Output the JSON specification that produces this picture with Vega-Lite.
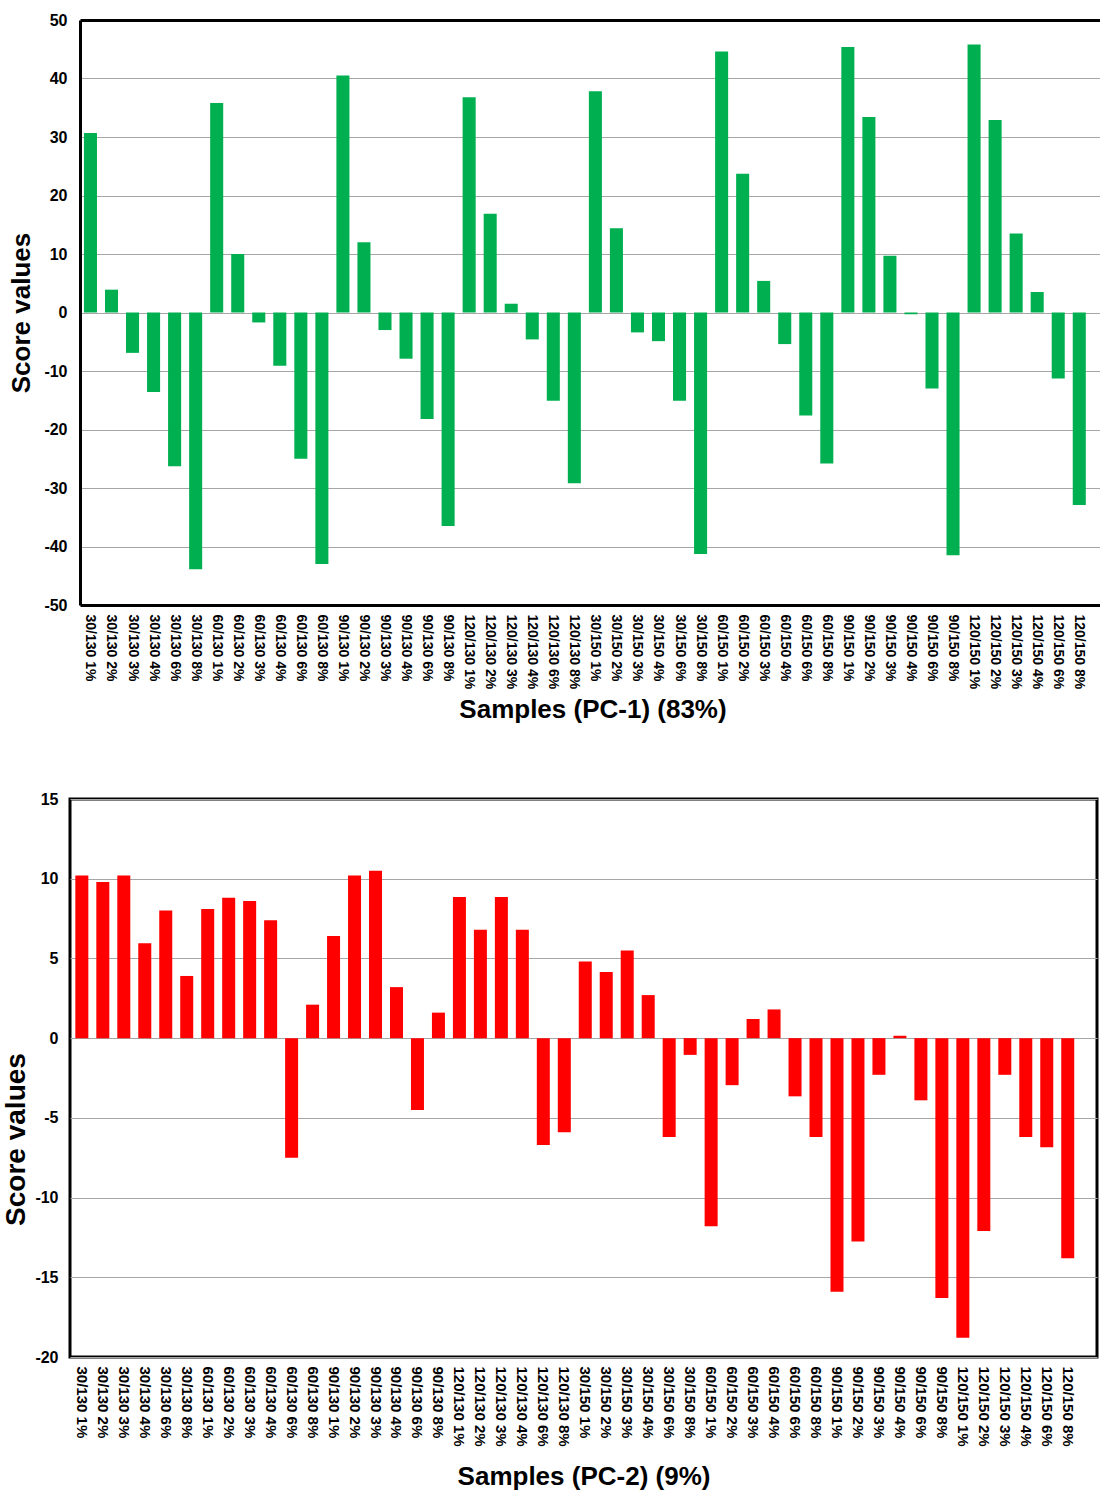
{
  "$schema": "https://vega.github.io/schema/vega-lite/v6.json",
  "padding": {"left": 0, "top": 12, "right": 0, "bottom": 0},
  "background": "white",
  "data": {"values": [
    {"sample": "30/130 1%", "pc1": 30.7, "pc2": 10.2},
    {"sample": "30/130 2%", "pc1": 3.9, "pc2": 9.8},
    {"sample": "30/130 3%", "pc1": -6.9, "pc2": 10.2},
    {"sample": "30/130 4%", "pc1": -13.6, "pc2": 5.95},
    {"sample": "30/130 6%", "pc1": -26.3, "pc2": 8.0},
    {"sample": "30/130 8%", "pc1": -43.9, "pc2": 3.9},
    {"sample": "60/130 1%", "pc1": 35.8, "pc2": 8.1},
    {"sample": "60/130 2%", "pc1": 10.0, "pc2": 8.8},
    {"sample": "60/130 3%", "pc1": -1.7, "pc2": 8.6},
    {"sample": "60/130 4%", "pc1": -9.1, "pc2": 7.4},
    {"sample": "60/130 6%", "pc1": -25.0, "pc2": -7.5},
    {"sample": "60/130 8%", "pc1": -43.0, "pc2": 2.1},
    {"sample": "90/130 1%", "pc1": 40.5, "pc2": 6.4},
    {"sample": "90/130 2%", "pc1": 12.0, "pc2": 10.2},
    {"sample": "90/130 3%", "pc1": -3.0, "pc2": 10.5},
    {"sample": "90/130 4%", "pc1": -7.9, "pc2": 3.2},
    {"sample": "90/130 6%", "pc1": -18.2, "pc2": -4.5},
    {"sample": "90/130 8%", "pc1": -36.5, "pc2": 1.6},
    {"sample": "120/130 1%", "pc1": 36.8, "pc2": 8.85},
    {"sample": "120/130 2%", "pc1": 16.9, "pc2": 6.8},
    {"sample": "120/130 3%", "pc1": 1.5, "pc2": 8.85},
    {"sample": "120/130 4%", "pc1": -4.6, "pc2": 6.8},
    {"sample": "120/130 6%", "pc1": -15.1, "pc2": -6.7},
    {"sample": "120/130 8%", "pc1": -29.2, "pc2": -5.9},
    {"sample": "30/150 1%", "pc1": 37.8, "pc2": 4.8},
    {"sample": "30/150 2%", "pc1": 14.4, "pc2": 4.15},
    {"sample": "30/150 3%", "pc1": -3.4, "pc2": 5.5},
    {"sample": "30/150 4%", "pc1": -4.9, "pc2": 2.7},
    {"sample": "30/150 6%", "pc1": -15.1, "pc2": -6.2},
    {"sample": "30/150 8%", "pc1": -41.3, "pc2": -1.05},
    {"sample": "60/150 1%", "pc1": 44.6, "pc2": -11.8},
    {"sample": "60/150 2%", "pc1": 23.7, "pc2": -2.95},
    {"sample": "60/150 3%", "pc1": 5.4, "pc2": 1.2},
    {"sample": "60/150 4%", "pc1": -5.4, "pc2": 1.8},
    {"sample": "60/150 6%", "pc1": -17.6, "pc2": -3.65},
    {"sample": "60/150 8%", "pc1": -25.8, "pc2": -6.2},
    {"sample": "90/150 1%", "pc1": 45.4, "pc2": -15.9},
    {"sample": "90/150 2%", "pc1": 33.4, "pc2": -12.75},
    {"sample": "90/150 3%", "pc1": 9.7, "pc2": -2.3},
    {"sample": "90/150 4%", "pc1": -0.3, "pc2": 0.15},
    {"sample": "90/150 6%", "pc1": -13.0, "pc2": -3.9},
    {"sample": "90/150 8%", "pc1": -41.5, "pc2": -16.3},
    {"sample": "120/150 1%", "pc1": 45.8, "pc2": -18.8},
    {"sample": "120/150 2%", "pc1": 32.9, "pc2": -12.1},
    {"sample": "120/150 3%", "pc1": 13.5, "pc2": -2.3},
    {"sample": "120/150 4%", "pc1": 3.5, "pc2": -6.2},
    {"sample": "120/150 6%", "pc1": -11.3, "pc2": -6.85},
    {"sample": "120/150 8%", "pc1": -32.9, "pc2": -13.8}
  ]},
  "vconcat": [
    {
      "width": 1035,
      "height": 585,
      "view": {"stroke": null},
      "mark": {"type": "bar", "color": "#00b050"},
      "encoding": {
        "x": {
          "field": "sample", "type": "nominal", "sort": null,
          "scale": {"range": [10, 1035], "paddingInner": 0.38, "paddingOuter": 0.55, "align": 0.17},
          "axis": {"title": "Samples (PC-1) (83%)", "labelAngle": 90, "labelFontSize": 14, "labelPadding": 9, "titleFontSize": 26, "titlePadding": 8, "grid": false, "domain": true, "domainColor": "black", "domainWidth": 3}
        },
        "y": {
          "field": "pc1", "type": "quantitative",
          "scale": {"domain": [-50, 50], "nice": false},
          "axis": {
            "title": "Score values", "values": [-50, -40, -30, -20, -10, 0, 10, 20, 30, 40, 50],
            "labelExpr": "'' + datum.value", "labelFontSize": 16, "labelPadding": 13, "titleFontSize": 26, "titleX": -45.5,
            "offset": -10, "domain": true, "domainColor": "black", "domainWidth": 3,
            "gridColor": {"condition": {"test": "datum.value === 50", "value": "black"}, "value": "#a6a6a6"},
            "gridWidth": {"condition": {"test": "datum.value === 50", "value": 3}, "value": 1}
          }
        }
      }
    },
    {
      "width": 1027,
      "height": 558,
      "mark": {"type": "bar", "color": "#ff0000"},
      "encoding": {
        "x": {
          "field": "sample", "type": "nominal", "sort": null,
          "scale": {"paddingInner": 0.38, "paddingOuter": 0.67, "align": 0.19},
          "axis": {"title": "Samples (PC-2) (9%)", "labelAngle": 90, "labelFontSize": 15, "labelPadding": 9, "titleFontSize": 26, "titlePadding": 17, "grid": false}
        },
        "y": {
          "field": "pc2", "type": "quantitative",
          "scale": {"domain": [-20, 15], "nice": false},
          "axis": {"title": "Score values", "values": [-20, -15, -10, -5, 0, 5, 10, 15], "labelExpr": "'' + datum.value", "labelFontSize": 16, "labelPadding": 12, "titleFontSize": 28, "titleX": -40, "titleY": 340}
        }
      }
    }
  ],
  "spacing": 66,
  "config": {
    "font": "Liberation Sans",
    "view": {"stroke": "black", "strokeWidth": 3},
    "axis": {
      "labelFont": "Liberation Sans", "titleFont": "Liberation Sans",
      "labelFontWeight": "bold", "titleFontWeight": "bold",
      "labelColor": "black", "titleColor": "black",
      "domain": false, "ticks": false,
      "gridColor": "#a6a6a6", "gridWidth": 1, "gridOpacity": 1
    }
  }
}
